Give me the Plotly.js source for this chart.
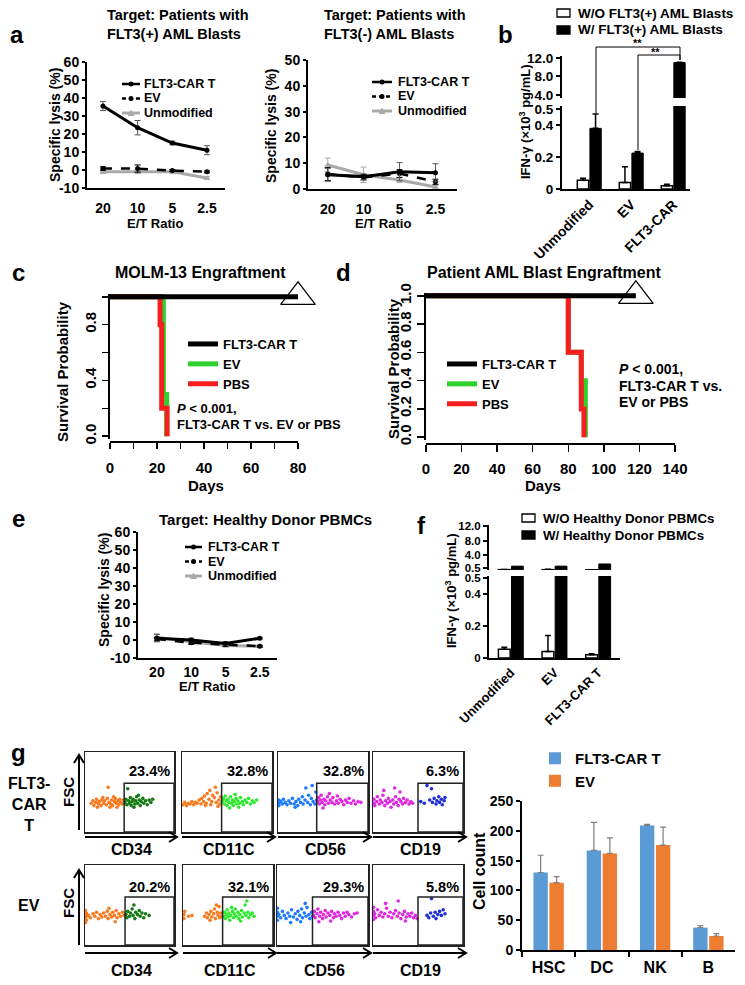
<!DOCTYPE html>
<html>
<head>
<meta charset="utf-8">
<script src="https://cdn.plot.ly/plotly-3.0.1.min.js"></script>
<style>html,body{margin:0;padding:0;background:#fff;}#chart{width:745px;height:985px;}</style>
</head>
<body>
<div id="chart"></div>
<script>
// ================= DATA =================
const etRatio = ['20', '10', '5', '2.5'];
const lysisNames = ['FLT3-CAR T', 'EV', 'Unmodified'];
const lysisTicks = ['-10', '0', '10', '20', '30', '40', '50', '60'];
const lysisTickVals = [-10, 0, 10, 20, 30, 40, 50, 60];

// a: target FLT3(+) AML blasts
const aPosCar = [35.5, 23.5, 15, 11];
const aPosCarErr = [2.5, 4, 1, 2.5];
const aPosEv = [0.8, 0.8, -0.3, -1];
const aPosEvErr = [1, 2, 0.5, 0.5];
const aPosUnmod = [-1, -1, -1, -4.5];
const aPosUnmodErr = [1, 1, 1, 0.8];
// a: target FLT3(-) AML blasts
const aNegCar = [5.5, 4.8, 6.7, 6.3];
const aNegCarErr = [2.5, 1, 3.5, 3.5];
const aNegEv = [5.8, 4.5, 6.0, 2.8];
const aNegEvErr = [2.5, 1, 1.5, 1];
const aNegUnmod = [9.3, 5.5, 3.5, 0.8];
const aNegUnmodErr = [2.7, 3, 1, 0.5];

// b: IFN-gamma (x10^3 pg/mL)
const bGroups = ['Unmodified', 'EV', 'FLT3-CAR'];
const bNames = ['W/O FLT3(+) AML Blasts', 'W/ FLT3(+) AML Blasts'];
const bWithout = [0.055, 0.04, 0.02];
const bWithoutErr = [0.012, 0.1, 0.01];
const bWith = [0.38, 0.225, 11.0];
const bWithErr = [0.09, 0.01, 0.1];

// c: MOLM-13 engraftment (Kaplan-Meier)
const kmNames = ['FLT3-CAR T', 'EV', 'PBS'];
const cDaysCar = [0, 80];
const cSurvCar = [1, 1];
const cDaysEv = [0, 22.7, 24.1];
const cSurvEv = [1, 0.3, 0];
const cDaysPbs = [0, 21.3, 22, 24.3];
const cSurvPbs = [1, 0.8, 0.2, 0];
const cCensorDays = [80];
const cCensorSurv = [1];

// d: patient AML blast engraftment
const dDaysCar = [0, 118];
const dSurvCar = [1, 1];
const dDaysEv = [0, 80, 87.3, 89.6];
const dSurvEv = [1, 0.6, 0.4, 0];
const dDaysPbs = [0, 80, 87.3, 88.8];
const dSurvPbs = [1, 0.6, 0.2, 0];
const dCensorDays = [118];
const dCensorSurv = [1];

// e: target healthy donor PBMCs
const eCar = [1, 0, -2, 1];
const eCarErr = [2, 1, 1, 0.5];
const eEv = [0.5, -1.5, -2.5, -3.5];
const eEvErr = [1, 1, 1, 0.5];
const eUnmod = [1.5, -1, -3, -3.5];
const eUnmodErr = [2, 1, 1, 0.5];

// f: IFN-gamma with healthy donor PBMCs
const fGroups = ['Unmodified', 'EV', 'FLT3-CAR T'];
const fNames = ['W/O Healthy Donor PBMCs', 'W/ Healthy Donor PBMCs'];
const fWithout = [0.055, 0.04, 0.02];
const fWithoutErr = [0.012, 0.1, 0.006];
const fWith = [1.0, 1.0, 1.6];

// g: cell counts
const gCells = ['HSC', 'DC', 'NK', 'B'];
const gNames = ['FLT3-CAR T', 'EV'];
const gCar = [130, 167, 209, 37.5];
const gCarErr = [29, 47, 2, 3.5];
const gEv = [113, 162, 176, 23.5];
const gEvErr = [10, 26, 30, 4];

// g: flow plots (x = marker %, y = FSC %, of each plot box)
const flowMarkers = ['CD34', 'CD11C', 'CD56', 'CD19'];
const flowRowNames = ['FLT3-<br>CAR<br>T', 'EV'];
const flowPctCar = ['23.4%', '32.8%', '32.8%', '6.3%'];
const flowPctEv = ['20.2%', '32.1%', '29.3%', '5.8%'];

const carCD34Neg = [[7,36],[9,39],[10,33],[12,37],[13,41],[15,35],[16,38],[18,33],[19,40],[21,36],[22,39],[24,34],[25,42],[26,56],[27,37],[29,35],[30,40],[31,33],[33,38],[34,42],[35,36],[37,39],[38,34],[39,41],[40,37],[42,35],[43,40],[20,43],[28,31],[36,31],[14,31],[32,44]];
const carCD34Pos = [[45,37],[46,41],[47,34],[48,54],[49,39],[50,36],[51,43],[52,33],[53,38],[54,41],[56,35],[57,39],[58,44],[59,36],[61,40],[62,33],[63,38],[65,42],[66,36],[68,39],[70,34],[72,40],[74,37],[76,41],[55,31],[60,46]];
const carCD11CNeg = [[1,34],[3,37],[5,33],[7,36],[9,35],[11,38],[13,34],[15,37],[17,36],[19,40],[21,35],[22,42],[24,38],[25,45],[27,36],[28,48],[30,41],[31,52],[33,38],[34,46],[36,43],[37,56],[38,37],[39,49],[41,40],[42,35],[43,44],[26,33],[32,34],[40,32]];
const carCD11CPos = [[45,38],[46,42],[47,35],[48,45],[49,39],[50,33],[51,41],[52,37],[54,44],[55,36],[56,40],[57,33],[58,38],[60,42],[61,35],[62,39],[64,36],[65,43],[67,38],[68,34],[70,40],[72,37],[74,42],[76,35],[78,39],[80,37],[83,40],[53,30],[63,31],[59,47]];
const carCD56Neg = [[1,36],[1,40],[1,33],[3,38],[5,35],[6,41],[8,37],[10,34],[12,39],[14,36],[16,42],[18,35],[20,38],[22,33],[23,41],[25,37],[27,44],[28,35],[30,40],[31,55],[33,37],[34,46],[36,34],[37,42],[38,58],[39,38],[41,35],[42,50],[43,40],[19,31]];
const carCD56Pos = [[44,38],[45,43],[46,35],[47,40],[48,46],[49,37],[51,41],[52,34],[53,39],[55,44],[56,36],[58,40],[60,37],[61,43],[63,35],[65,39],[67,36],[69,41],[71,38],[73,34],[75,40],[77,37],[79,42],[81,36],[84,39],[86,35],[89,38],[92,37],[50,30],[57,48],[66,45]];
const carCD19Neg = [[1,36],[1,41],[2,33],[4,38],[5,44],[7,35],[8,40],[10,37],[11,46],[13,33],[14,39],[16,36],[17,42],[19,38],[20,31],[22,40],[23,35],[25,44],[26,37],[28,33],[29,41],[31,38],[33,35],[34,42],[36,37],[38,40],[40,35],[42,38],[44,36],[12,52],[24,55],[30,50]];
const carCD19Pos = [[53,38],[57,36],[60,58],[63,40],[65,54],[66,37],[68,42],[70,35],[71,39],[73,44],[74,37],[76,41],[77,34],[79,39],[80,43]];
const evCD34Neg = [[0.5,28],[0.5,33],[0.5,38],[0.5,43],[1.5,31],[1.5,36],[1.5,40],[4,37],[6,34],[9,39],[11,36],[13,41],[15,33],[17,38],[19,35],[21,40],[23,36],[25,42],[26,33],[28,38],[30,35],[31,41],[33,37],[35,43],[36,34],[38,39],[40,36],[42,41],[44,37],[27,46],[34,29]];
const evCD34Pos = [[46,38],[47,34],[48,42],[50,36],[51,40],[53,45],[54,37],[56,33],[57,41],[59,38],[61,43],[62,36],[64,40],[66,34],[68,39],[72,37],[55,50]];
const evCD11CNeg = [[1,33],[1,38],[2,42],[6,36],[10,37],[24,36],[26,40],[27,34],[29,38],[31,42],[32,35],[34,39],[35,45],[36,33],[38,41],[39,37],[40,48],[41,34],[42,40],[43,36],[37,50],[30,31]];
const evCD11CPos = [[45,36],[46,41],[47,33],[48,38],[49,44],[50,35],[51,40],[52,31],[53,37],[55,42],[56,34],[57,39],[58,45],[59,36],[61,41],[62,33],[63,38],[65,43],[66,35],[68,40],[69,50],[70,37],[72,41],[73,34],[75,38],[77,40],[79,36],[54,47],[64,30],[71,55]];
const evCD56Neg = [[0.5,31],[0.5,36],[0.5,41],[0.5,46],[2,38],[4,34],[6,42],[8,37],[10,33],[12,40],[14,36],[16,44],[18,35],[20,39],[22,32],[23,42],[25,37],[27,45],[28,34],[30,40],[32,36],[33,47],[35,38],[36,33],[38,41],[39,36],[15,28],[26,29],[31,52]];
const evCD56Pos = [[40,37],[41,42],[42,34],[44,39],[45,45],[47,36],[48,41],[50,33],[51,38],[53,43],[54,35],[56,40],[58,37],[60,42],[62,34],[63,39],[65,36],[67,41],[69,37],[71,33],[73,40],[75,36],[77,41],[79,38],[82,35],[85,39],[88,40],[46,29],[59,30]];
const evCD19Neg = [[0.5,32],[0.5,37],[0.5,42],[0.5,47],[2,39],[3,34],[5,44],[7,37],[9,41],[11,35],[13,39],[15,46],[17,36],[19,41],[21,34],[23,39],[25,43],[27,36],[29,40],[31,33],[33,38],[35,42],[37,35],[39,39],[41,36],[43,40],[45,34],[47,37],[49,33],[14,52],[28,55],[36,30]];
const evCD19Pos = [[60,37],[62,34],[64,40],[65,58],[67,36],[69,41],[70,33],[72,38],[74,42],[76,37],[78,44],[80,39]];

// ================= HELPERS =================
const W = 745, H = 985;
const FF = '"Liberation Sans", Arial, Helvetica, sans-serif';
const X = p => p / W;
const Y = p => 1 - p / H;
const dX = (l, r) => [X(l), X(r)];
const dY = (t, b) => [Y(b), Y(t)];
const fnt = (size, extra) => Object.assign({family: FF, size: size, color: '#000', weight: 'bold'}, extra || {});
function axis(o) {
  return Object.assign({
    showgrid: false, zeroline: false, showline: true, linecolor: '#000', linewidth: 2,
    ticks: 'outside', tickcolor: '#000', tickwidth: 2, ticklen: 4,
    tickfont: fnt(14), fixedrange: true
  }, o);
}
function ann(text, x, y, size, extra) {
  return Object.assign({text: text, x: X(x), y: Y(y), xref: 'paper', yref: 'paper', showarrow: false,
    xanchor: 'center', yanchor: 'middle', font: fnt(size)}, extra || {});
}
function leg(x, y, size, extra) {
  return Object.assign({x: X(x), y: Y(y), xanchor: 'left', yanchor: 'top', bgcolor: 'rgba(0,0,0,0)',
    borderwidth: 0, font: fnt(size)}, extra || {});
}

const traces = [];
const GRAY = '#a9a9a9';

function lysis(xa, ya, car, carErr, ev, evErr, un, unErr) {
  traces.push({x: etRatio, y: un, name: lysisNames[2], showlegend: false, xaxis: xa, yaxis: ya,
    mode: 'lines+markers', line: {color: GRAY, width: 3}, marker: {color: GRAY, size: 6, symbol: 'triangle-up'},
    error_y: {type: 'data', array: unErr, color: GRAY, thickness: 1, width: 3}});
  traces.push({x: etRatio, y: ev, name: lysisNames[1], showlegend: false, xaxis: xa, yaxis: ya,
    mode: 'lines+markers', line: {color: '#000', width: 2.5, dash: 'dash'}, marker: {color: '#000', size: 5},
    error_y: {type: 'data', array: evErr, color: '#000', thickness: 1, width: 3}});
  traces.push({x: etRatio, y: car, name: lysisNames[0], showlegend: false, xaxis: xa, yaxis: ya,
    mode: 'lines+markers', line: {color: '#000', width: 3}, marker: {color: '#000', size: 5},
    error_y: {type: 'data', array: carErr, color: '#555', thickness: 1, width: 3}});
}
lysis('x', 'y', aPosCar, aPosCarErr, aPosEv, aPosEvErr, aPosUnmod, aPosUnmodErr);
lysis('x2', 'y2', aNegCar, aNegCarErr, aNegEv, aNegEvErr, aNegUnmod, aNegUnmodErr);
lysis('x6', 'y7', eCar, eCarErr, eEv, eEvErr, eUnmod, eUnmodErr);

function ifn(xa, yLow, yUp, groups, names, wo, woErr, w, wErr) {
  [yLow, yUp].forEach((ya) => {
    traces.push({type: 'bar', x: groups, y: wo, name: names[0], showlegend: false, xaxis: xa, yaxis: ya,
      marker: {color: '#fff', line: {color: '#000', width: 1.5}},
      error_y: {type: 'data', symmetric: false, array: woErr, arrayminus: [0, 0, 0], color: '#000', thickness: 1.5, width: 3}});
    traces.push({type: 'bar', x: groups, y: w, name: names[1], showlegend: false, xaxis: xa, yaxis: ya,
      marker: {color: '#000', line: {color: '#000', width: 1}},
      error_y: wErr ? {type: 'data', symmetric: false, array: wErr, arrayminus: [0, 0, 0], color: '#000', thickness: 1.5, width: 3} : {visible: false}});
  });
}
ifn('x3', 'y3', 'y4', bGroups, bNames, bWithout, bWithoutErr, bWith, bWithErr);
ifn('x7', 'y8', 'y9', fGroups, fNames, fWithout, fWithoutErr, fWith, null);

const GREEN = '#2ed12e', RED = '#f51f1f';
function km(xa, ya, lg, dc, sc, de, se, dp, sp, cd, cs) {
  traces.push({x: de, y: se, name: kmNames[1], legendrank: 2, legend: lg, xaxis: xa, yaxis: ya, mode: 'lines',
    line: {color: GREEN, width: 5, shape: 'hv'}});
  traces.push({x: dp, y: sp, name: kmNames[2], legendrank: 3, legend: lg, xaxis: xa, yaxis: ya, mode: 'lines',
    line: {color: RED, width: 5, shape: 'hv'}});
  traces.push({x: dc, y: sc, name: kmNames[0], legendrank: 1, legend: lg, xaxis: xa, yaxis: ya, mode: 'lines',
    line: {color: '#000', width: 5, shape: 'hv'}});
  traces.push({x: cd, y: cs, showlegend: false, xaxis: xa, yaxis: ya, mode: 'markers', cliponaxis: false,
    marker: {symbol: 'triangle-up-open', size: 30, color: '#000', line: {width: 1.2}}});
}
km('x4', 'y5', 'legend4', cDaysCar, cSurvCar, cDaysEv, cSurvEv, cDaysPbs, cSurvPbs, cCensorDays, cCensorSurv);
km('x5', 'y6', 'legend5', dDaysCar, dSurvCar, dDaysEv, dSurvEv, dDaysPbs, dSurvPbs, dCensorDays, dCensorSurv);

traces.push({type: 'bar', x: gCells, y: gCar, name: gNames[0], legend: 'legend8', xaxis: 'x8', yaxis: 'y10',
  marker: {color: '#5b9bd5'}, error_y: {type: 'data', symmetric: false, array: gCarErr, arrayminus: [0, 0, 0, 0], color: '#7f7f7f', thickness: 1.2, width: 3}});
traces.push({type: 'bar', x: gCells, y: gEv, name: gNames[1], legend: 'legend8', xaxis: 'x8', yaxis: 'y10',
  marker: {color: '#ed7d31'}, error_y: {type: 'data', symmetric: false, array: gEvErr, arrayminus: [0, 0, 0, 0], color: '#7f7f7f', thickness: 1.2, width: 3}});

// flow plots
const ORANGE = '#f77a1e';
const flowSets = [
  [carCD34Neg, carCD34Pos], [carCD11CNeg, carCD11CPos], [carCD56Neg, carCD56Pos], [carCD19Neg, carCD19Pos],
  [evCD34Neg, evCD34Pos], [evCD11CNeg, evCD11CPos], [evCD56Neg, evCD56Pos], [evCD19Neg, evCD19Pos]
];
const flowColors = [[ORANGE, '#137a13'], [ORANGE, '#2fe82f'], ['#1e7bff', '#e028e0'], ['#e028e0', '#1f2fd6']];
flowSets.forEach((set, k) => {
  const xa = 'x' + (9 + k), ya = 'y' + (11 + k);
  set.forEach((pts, j) => {
    traces.push({x: pts.map(p => p[0]), y: pts.map(p => p[1]), mode: 'markers', showlegend: false,
      xaxis: xa, yaxis: ya, hoverinfo: 'skip', marker: {size: 3.6, color: flowColors[k % 4][j]}});
  });
});

// ================= LAYOUT =================
const minorKM = (dt) => ({dtick: dt, tick0: 0, ticks: 'outside', ticklen: 6, tickwidth: 1.5, tickcolor: '#000', showgrid: false});
const layout = {
  width: W, height: H, margin: {l: 0, r: 0, t: 0, b: 0}, paper_bgcolor: '#fff', plot_bgcolor: 'rgba(0,0,0,0)',
  font: fnt(13), barmode: 'group', bargap: 0.4, bargroupgap: 0.1, hovermode: false,
  // a left
  xaxis: axis({domain: dX(87, 225), anchor: 'y', type: 'category', range: [-0.46, 3.52], ticks: '', ticklabelstandoff: 6}),
  yaxis: axis({domain: dY(62, 188), anchor: 'x', range: [-10, 60], tickvals: lysisTickVals, ticktext: lysisTicks, ticklen: 3}),
  // a right
  xaxis2: axis({domain: dX(308, 457), anchor: 'y2', type: 'category', range: [-0.55, 3.6], ticks: '', ticklabelstandoff: 6}),
  yaxis2: axis({domain: dY(60, 189), anchor: 'x2', range: [0, 50], dtick: 10, ticklen: 3}),
  // b
  xaxis3: axis({domain: dX(562, 690), anchor: 'y3', type: 'category', range: [-0.65, 2.4], ticks: '', tickangle: -45, tickfont: fnt(14)}),
  yaxis3: axis({domain: dY(106, 189), anchor: 'x3', range: [0, 0.52], tickvals: [0, 0.2, 0.4, 0.5], ticktext: ['0', '0.2', '0.4', '0.5'], tickfont: fnt(13.5)}),
  yaxis4: axis({domain: dY(56, 98), anchor: 'x3', range: [3.35, 12.43], tickvals: [4, 8, 12], ticktext: ['4.0', '8.0', '12.0'], tickfont: fnt(13.5)}),
  // c
  xaxis4: axis({domain: dX(110, 298), anchor: 'free', position: Y(442), range: [0, 80], tickvals: [0, 20, 40, 60, 80],
    ticklen: 6, tickwidth: 1.5, tickfont: fnt(15), ticklabelstandoff: 6, minor: minorKM(10)}),
  yaxis5: axis({domain: dY(294, 439), anchor: 'x4', range: [-0.02, 1.02], tickvals: [0, 0.4, 0.8],
    ticktext: ['0.0', '0.4', '0.8'], tickangle: -90, ticklen: 6, tickwidth: 1.5, tickfont: fnt(15), minor: minorKM(0.2)}),
  // d
  xaxis5: axis({domain: dX(426, 675), anchor: 'free', position: Y(444), range: [0, 140], dtick: 20,
    ticklen: 7, tickwidth: 1.5, tickfont: fnt(15), ticklabelstandoff: 4}),
  yaxis6: axis({domain: dY(293, 440), anchor: 'x5', range: [-0.02, 1.02], tickvals: [0, 0.2, 0.4, 0.6, 0.8, 1],
    ticktext: ['0.0', '0.2', '0.4', '0.6', '0.8', '1.0'], tickangle: -90, ticklen: 7, tickwidth: 1.5, tickfont: fnt(15)}),
  // e
  xaxis6: axis({domain: dX(138, 277), anchor: 'y7', type: 'category', range: [-0.55, 3.5], ticks: '', ticklabelstandoff: 0}),
  yaxis7: axis({domain: dY(532, 658), anchor: 'x6', range: [-10, 60], tickvals: lysisTickVals, ticktext: lysisTicks, ticklen: 3}),
  // f
  xaxis7: axis({domain: dX(489, 620), anchor: 'y8', type: 'category', range: [-0.5, 2.5], ticks: '', tickangle: -45, tickfont: fnt(13)}),
  yaxis8: axis({domain: dY(576, 658), anchor: 'x7', range: [0, 0.51], tickvals: [0, 0.2, 0.4, 0.5], ticktext: ['0', '0.2', '0.4', '0.5'], tickfont: fnt(11.5)}),
  yaxis9: axis({domain: dY(525, 570), anchor: 'x7', range: [-0.05, 12.27], tickvals: [0.5, 4, 8, 12], ticktext: ['0.5', '4.0', '8.0', '12.0'], tickfont: fnt(11.5)}),
  // g bars
  xaxis8: axis({domain: dX(522, 735), anchor: 'y10', type: 'category', range: [-0.5, 3.5], tickson: 'boundaries', ticklen: 5, tickfont: fnt(16), ticklabelstandoff: 2}),
  yaxis10: axis({domain: dY(801, 950), anchor: 'x8', range: [0, 250], dtick: 50, ticklen: 4, tickfont: fnt(14)}),
  // legends
  legend4: leg(183, 329, 13),
  legend5: leg(442, 349, 13),
  legend8: leg(535, 742, 15),
  annotations: [],
  shapes: []
};

// hand-placed legends (tight line spacing as in the figure)
function lysisLegend(x0, x1, xt, ys) {
  const st = [
    {color: '#000', width: 2.5, dash: 'solid', mk: 'circle'},
    {color: '#000', width: 2.5, dash: '4px,3px', mk: 'circle'},
    {color: GRAY, width: 3, dash: 'solid', mk: 'tri'}];
  ys.forEach((y, i) => {
    const s = st[i], cx = (x0 + x1) / 2;
    layout.shapes.push({type: 'line', xref: 'paper', yref: 'paper', x0: X(x0), x1: X(x1), y0: Y(y), y1: Y(y),
      line: {color: s.color, width: s.width, dash: s.dash}});
    if (s.mk === 'circle') {
      layout.shapes.push({type: 'circle', xref: 'paper', yref: 'paper', x0: X(cx - 2.5), x1: X(cx + 2.5),
        y0: Y(y + 2.5), y1: Y(y - 2.5), fillcolor: s.color, line: {width: 0}});
    } else {
      layout.shapes.push({type: 'path', xref: 'paper', yref: 'paper', fillcolor: s.color, line: {width: 0},
        path: `M${X(cx - 3.5)},${Y(y + 3)} L${X(cx + 3.5)},${Y(y + 3)} L${X(cx)},${Y(y - 3.5)} Z`});
    }
    layout.annotations.push(ann(lysisNames[i], xt, y, 12.5, {xanchor: 'left', borderpad: 0}));
  });
}
lysisLegend(122, 140, 143, [84, 98.5, 113]);
lysisLegend(372, 392, 397, [82, 96.5, 111]);
lysisLegend(185, 202, 207, [547, 561.5, 576]);

function barLegend(x0, x1, xt, ys, names, size) {
  ys.forEach((y, i) => {
    layout.shapes.push({type: 'rect', xref: 'paper', yref: 'paper', x0: X(x0), x1: X(x1), y0: Y(y + 4), y1: Y(y - 4),
      fillcolor: i === 0 ? '#fff' : '#000', line: {color: '#000', width: 1.3}});
    layout.annotations.push(ann(names[i], xt, y, size, {xanchor: 'left', borderpad: 0}));
  });
}
barLegend(557, 570, 577, [13, 30], bNames, 13.5);
barLegend(522, 535, 542, [518, 535], fNames, 13.3);

// flow plot axes
const flowBoxX = [[[85,174],[182,272],[278,368],[373,463]], [[85,174],[183,273],[277,368],[373,463]]];
const flowBoxY = [[752, 832], [865, 945]];
const flowGateX = [[44, 44, 43, 50], [45, 44, 39, 50]];
const flowGateTop = [61, 60];
for (let k = 0; k < 8; k++) {
  const r = Math.floor(k / 4), c = k % 4;
  const xa = 'x' + (9 + k), ya = 'y' + (11 + k);
  layout['xaxis' + (9 + k)] = {domain: dX(flowBoxX[r][c][0], flowBoxX[r][c][1]), anchor: ya, range: [0, 100],
    showline: true, mirror: true, linecolor: '#222', linewidth: 1.5, ticks: '', showticklabels: false,
    showgrid: false, zeroline: false, fixedrange: true};
  layout['yaxis' + (11 + k)] = {domain: dY(flowBoxY[r][0], flowBoxY[r][1]), anchor: xa, range: [0, 100],
    showline: true, mirror: true, linecolor: '#222', linewidth: 1.5, ticks: '', showticklabels: false,
    showgrid: false, zeroline: false, fixedrange: true};
  layout.shapes.push({type: 'rect', xref: xa, yref: ya, x0: flowGateX[r][c], x1: 100, y0: 0, y1: flowGateTop[r],
    line: {color: '#222', width: 1.5}});
  const pct = r === 0 ? flowPctCar[c] : flowPctEv[c];
  layout.annotations.push(ann(pct, flowBoxX[r][c][1] - 2, r === 0 ? 771 : 887, 14.5, {xanchor: 'right'}));
  layout.annotations.push(ann(flowMarkers[c], (flowBoxX[r][c][0] + flowBoxX[r][c][1]) / 2 + 2, r === 0 ? 849 : 970, 16));
  const ay = r === 0 ? 837 : 953, x1 = flowBoxX[r][c][0], x2 = flowBoxX[r][c][1] + 3;
  layout.shapes.push({type: 'path', xref: 'paper', yref: 'paper', line: {color: '#000', width: 2},
    path: `M${X(x1)},${Y(ay)} L${X(x2)},${Y(ay)} M${X(x2 - 8)},${Y(ay - 5)} L${X(x2)},${Y(ay)} L${X(x2 - 8)},${Y(ay + 5)}`});
}
[[830, 755, 792], [945, 870, 903]].forEach((a, r) => {
  const ax = 79;
  layout.shapes.push({type: 'path', xref: 'paper', yref: 'paper', line: {color: '#000', width: 2},
    path: `M${X(ax)},${Y(a[0])} L${X(ax)},${Y(a[1])} M${X(ax - 5)},${Y(a[1] + 8)} L${X(ax)},${Y(a[1])} L${X(ax + 5)},${Y(a[1] + 8)}`});
  layout.annotations.push(ann('FSC', 68, a[2], 15, {textangle: -90}));
  layout.annotations.push(ann(flowRowNames[r], 29, r === 0 ? 804 : 905, 16));
});

// b significance brackets
const brk = (x1, y1, yTop, x2, y2) => ({type: 'path', xref: 'paper', yref: 'paper', line: {color: '#000', width: 1},
  path: `M${X(x1)},${Y(y1)} L${X(x1)},${Y(yTop)} L${X(x2)},${Y(yTop)} L${X(x2)},${Y(y2)}`});
layout.shapes.push(brk(596, 113, 47, 680, 60));
layout.shapes.push(brk(638, 150, 55, 680, 60));

layout.annotations.push(
  ann('a', 17, 35, 24), ann('b', 505, 35, 24), ann('c', 18, 272, 24), ann('d', 343, 273, 24),
  ann('e', 18, 518, 24), ann('f', 421, 525, 24), ann('g', 18, 752, 24),
  ann('Target: Patients with<br>FLT3(+) AML Blasts', 105, 25, 14.5, {xanchor: 'left', align: 'left'}),
  ann('Target: Patients with<br>FLT3(-) AML Blasts', 322, 25, 14.5, {xanchor: 'left', align: 'left'}),
  ann('MOLM-13 Engraftment', 200, 273, 16),
  ann('Patient AML Blast Engraftment', 544, 273, 16),
  ann('Target: Healthy Donor PBMCs', 265, 519, 15),
  ann('Specific lysis (%)', 55, 125, 14, {textangle: -90}),
  ann('E/T Ratio', 155, 223, 13),
  ann('Specific lysis (%)', 271, 126, 14, {textangle: -90}),
  ann('E/T Ratio', 383, 223, 13),
  ann('IFN-γ (×10<sup>3</sup> pg/mL)', 525, 122, 13, {textangle: -90}),
  ann('Survival Probability', 63, 372, 15, {textangle: -90}),
  ann('Days', 206, 485, 15),
  ann('Survival Probability', 393, 368, 15, {textangle: -90}),
  ann('Days', 543, 485, 15),
  ann('Specific lysis (%)', 104, 590, 14, {textangle: -90}),
  ann('E/T Ratio', 207, 686, 13),
  ann('IFN-γ (×10<sup>3</sup> pg/mL)', 451, 591, 13, {textangle: -90}),
  ann('Cell count', 479, 871, 16, {textangle: -90}),
  ann('**', 637, 43, 11), ann('**', 655, 52, 11),
  ann('<i>P</i> < 0.001,', 175, 408, 13, {xanchor: 'left'}),
  ann('FLT3-CAR T vs. EV or PBS', 175, 424, 13, {xanchor: 'left'}),
  ann('<i>P</i> < 0.001,', 617, 369, 14, {xanchor: 'left'}),
  ann('FLT3-CAR T vs.', 617, 386, 14, {xanchor: 'left'}),
  ann('EV or PBS', 617, 402, 14, {xanchor: 'left'})
);

Plotly.newPlot('chart', traces, layout, {displayModeBar: false, staticPlot: true});
</script>
</body>
</html>
